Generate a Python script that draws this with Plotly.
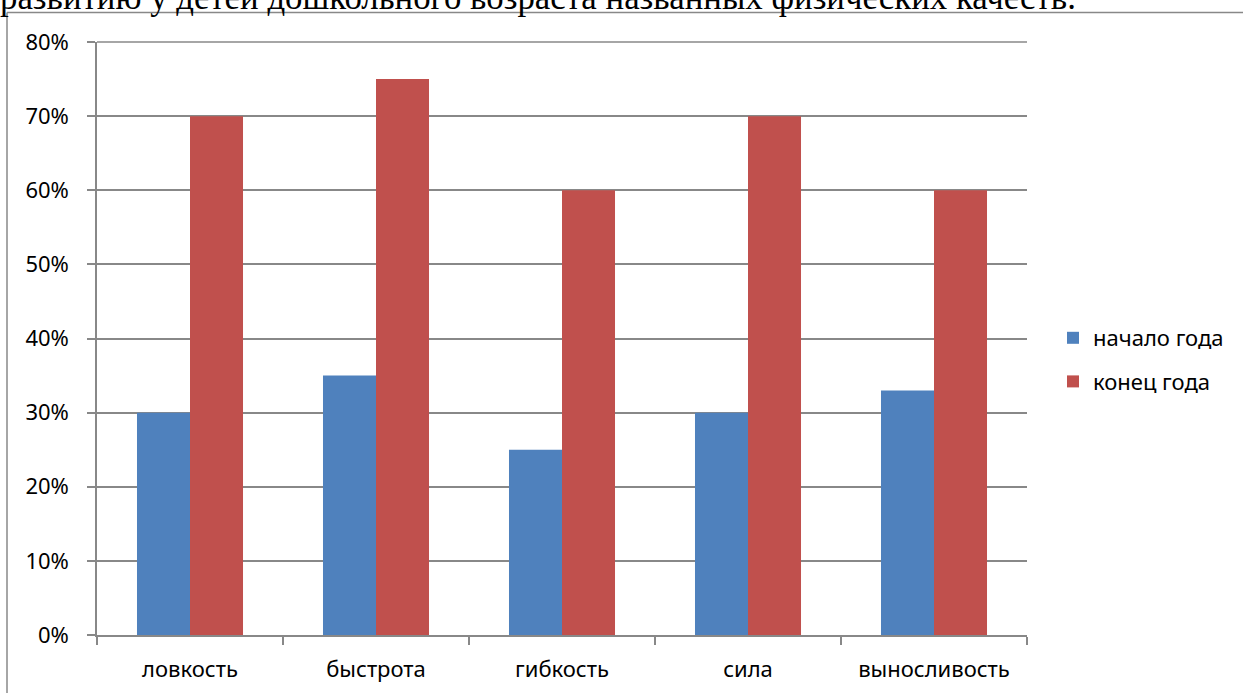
import plotly.graph_objects as go

categories = ["ловкость", "быстрота", "гибкость", "сила", "выносливость"]
start_year = [0.30, 0.35, 0.25, 0.30, 0.33]
end_year = [0.70, 0.75, 0.60, 0.70, 0.60]
series_names = ["начало года", "конец года"]
caption = "развитию у детей дошкольного возраста названных физических качеств."

W, H = 1243, 693
L, R, T, B = 97, 1027, 42, 635
pw, ph = R - L, B - T

def px(x):
    return (x - L) / pw

def py(y):
    return (B - y) / ph

font = "Noto Sans"
grid = "#888888"
fs = 22

fig = go.Figure()
fig.add_trace(go.Bar(x=categories, y=start_year, name=series_names[0],
                     marker=dict(color="#4F81BD", line=dict(width=0)),
                     legendgroup="a"))
fig.add_trace(go.Bar(x=categories, y=end_year, name=series_names[1],
                     marker=dict(color="#C0504D", line=dict(width=0)),
                     legendgroup="b"))

fig.update_layout(
    width=W, height=H,
    margin=dict(l=L, r=W - R, t=T, b=H - B, pad=0, autoexpand=False),
    paper_bgcolor="white", plot_bgcolor="white",
    barmode="group", bargap=0.43, bargroupgap=0,
    font=dict(family=font, size=fs, color="black"),
    showlegend=True,
    legend=dict(x=px(1053), xanchor="left", y=py(360), yanchor="middle",
                font=dict(family=font, size=fs), tracegroupgap=12,
                itemwidth=30, bgcolor="rgba(0,0,0,0)"),
    xaxis=dict(showgrid=False, showline=True, linecolor=grid, linewidth=1.5,
               ticks="outside", tickson="boundaries", ticklen=8,
               tickcolor=grid, tickwidth=1.5, tickfont=dict(size=fs),
               ticklabelstandoff=14, automargin=False, fixedrange=True),
    yaxis=dict(range=[0, 0.8], dtick=0.1, tickformat=".0%", showgrid=True,
               gridcolor=grid, gridwidth=1.5, showline=True, linecolor=grid,
               linewidth=1.5, ticks="outside", ticklen=8, tickcolor=grid,
               tickwidth=1.5, tickfont=dict(size=fs), zeroline=False,
               ticklabelstandoff=14, automargin=False, mirror=False,
               fixedrange=True),
    shapes=[
        dict(type="line", xref="paper", yref="paper", x0=px(7), x1=px(7),
             y0=py(12.5), y1=py(700), line=dict(color=grid, width=1.5)),
        dict(type="line", xref="paper", yref="paper", x0=px(7), x1=px(1250),
             y0=py(12.5), y1=py(12.5), line=dict(color=grid, width=1.5)),
        dict(type="line", xref="paper", yref="paper", x0=0, x1=1,
             y0=1, y1=1, line=dict(color=grid, width=1.5)),
    ],
    annotations=[dict(text=caption, xref="paper", yref="paper", x=px(-2),
                      xanchor="left", y=py(-3), yanchor="middle",
                      showarrow=False,
                      font=dict(family="Liberation Serif", size=34.8,
                                color="black"))],
)

fig.write_html("out.html", config={"displayModeBar": False},
               post_script="document.body.style.margin='0';document.body.style.overflow='hidden';")
